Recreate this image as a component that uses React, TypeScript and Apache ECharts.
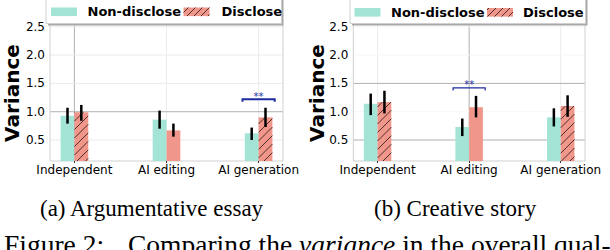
import React, { useEffect, useRef } from 'react';
import * as echarts from 'echarts';

// ---------- data ----------
const categories = ['Independent', 'AI editing', 'AI generation'];
const yTickValues = [0.5, 1.0, 1.5, 2.0, 2.5];
const seriesNames = ['Non-disclose', 'Disclose'];

// (a) Argumentative essay
const essayNonDisclose = [0.93, 0.86, 0.62];
const essayNonDiscloseLow = [0.79, 0.70, 0.50];
const essayNonDiscloseHigh = [1.07, 1.02, 0.72];
const essayDisclose = [0.99, 0.67, 0.90];
const essayDiscloseLow = [0.84, 0.56, 0.73];
const essayDiscloseHigh = [1.12, 0.79, 1.07];
const essaySigCategory = [2];
const essaySigLevel = [1.22];
const essaySigLabel = ['**'];

// (b) Creative story
const storyNonDisclose = [1.14, 0.73, 0.90];
const storyNonDiscloseLow = [0.94, 0.57, 0.74];
const storyNonDiscloseHigh = [1.32, 0.88, 1.06];
const storyDisclose = [1.17, 1.08, 1.10];
const storyDiscloseLow = [0.97, 0.90, 0.91];
const storyDiscloseHigh = [1.37, 1.28, 1.29];
const storySigCategory = [1];
const storySigLevel = [1.42];
const storySigLabel = ['**'];

const captionA = '(a) Argumentative essay';
const captionB = '(b) Creative story';
const yAxisTitle = 'Variance';
const figureLabel = 'Figure 2:';
const figureText = '{n|Comparing the }{i|variance }{n|in the overall qual-}';

// ---------- styles ----------
const TEAL = '#a3e4d7';
const SALMON = '#f1968b';
const SIG = '#1c2c9e';
const DARK = '#b0b0b0';
const LIGHT = '#ebebeb';
const FAINT = '#f6f6f6';
const FRAME = '#d0d0d0';
const BAR_W = 0.15;
const X_MIN = -0.265;
const X_MAX = 2.265;
const Y_MIN = 0.13;
const Y_MAX = 2.54;
const HATCH = 8.5;
const SANS = 'DejaVu Sans';
const SERIF = 'Liberation Serif';

const essayHatch = [true, false, true];
const storyHatch = [true, false, true];
const essayVGrid = [DARK, LIGHT, LIGHT];
const essayHGrid = [LIGHT, DARK, LIGHT, LIGHT, LIGHT];
const storyVGrid = [LIGHT, DARK, LIGHT];
const storyHGrid = [DARK, FAINT, DARK, FAINT, FAINT];

function hatchLines(x0: number, y0: number, x1: number, y1: number, period: number) {
  const out: any[] = [];
  const cStart = Math.ceil((x0 + y0) / period) * period;
  for (let c = cStart; c <= x1 + y1; c += period) {
    const xa = Math.max(x0, c - y1);
    const xb = Math.min(x1, c - y0);
    if (xb - xa > 0.3) {
      out.push({
        type: 'line',
        shape: { x1: xa, y1: c - xa, x2: xb, y2: c - xb },
        style: { stroke: 'rgba(0,0,0,0.85)', lineWidth: 0.8 },
      });
    }
  }
  return out;
}

function gridSeries(idx: number, vColors: string[], hColors: string[]) {
  const data: number[][] = [];
  categories.forEach((_, i) => data.push([0, i]));
  yTickValues.forEach((v) => data.push([1, v]));
  data.push([2, 0]);
  return {
    type: 'custom',
    xAxisIndex: idx,
    yAxisIndex: idx,
    z: 0,
    silent: true,
    data,
    renderItem: (params: any, api: any) => {
      const kind = api.value(0);
      const v = api.value(1);
      const cs = params.coordSys;
      if (kind === 0) {
        const p = api.coord([v, Y_MIN]);
        return {
          type: 'line',
          shape: { x1: p[0], y1: cs.y, x2: p[0], y2: cs.y + cs.height },
          style: { stroke: vColors[params.dataIndex], lineWidth: 1 },
        };
      }
      if (kind === 1) {
        const p = api.coord([X_MIN, v]);
        const hi = params.dataIndex - categories.length;
        return {
          type: 'line',
          shape: { x1: cs.x, y1: p[1], x2: cs.x + cs.width, y2: p[1] },
          style: { stroke: hColors[hi], lineWidth: 1 },
        };
      }
      return {
        type: 'polyline',
        shape: {
          points: [
            [cs.x, cs.y],
            [cs.x, cs.y + cs.height],
            [cs.x + cs.width, cs.y + cs.height],
            [cs.x + cs.width, cs.y],
          ],
        },
        style: { stroke: FRAME, fill: 'none', lineWidth: 1 },
      };
    },
  };
}

function barSeries(
  idx: number,
  name: string,
  offset: number,
  color: string,
  hatch: boolean[] | null,
  values: number[],
  low: number[],
  high: number[]
) {
  return {
    type: 'custom',
    name,
    xAxisIndex: idx,
    yAxisIndex: idx,
    z: 2,
    data: values.map((v, i) => [i, v, low[i], high[i]]),
    renderItem: (params: any, api: any) => {
      const cat = api.value(0);
      const v = api.value(1);
      const lo = api.value(2);
      const hi = api.value(3);
      const cs = params.coordSys;
      const xc = cat + offset;
      const tl = api.coord([xc - BAR_W / 2, v]);
      const br = api.coord([xc + BAR_W / 2, Y_MIN]);
      const bottom = Math.min(br[1], cs.y + cs.height);
      const children: any[] = [
        {
          type: 'rect',
          shape: { x: tl[0], y: tl[1], width: br[0] - tl[0], height: bottom - tl[1] },
          style: { fill: color },
        },
      ];
      if (hatch && hatch[params.dataIndex]) {
        children.push(...hatchLines(tl[0], tl[1], br[0], bottom, HATCH));
      }
      const eLo = api.coord([xc, lo]);
      const eHi = api.coord([xc, hi]);
      children.push({
        type: 'line',
        shape: { x1: eLo[0], y1: eLo[1], x2: eHi[0], y2: eHi[1] },
        style: { stroke: '#000', lineWidth: 2.5 },
      });
      return { type: 'group', children };
    },
  };
}

function sigSeries(idx: number, cats: number[], levels: number[], labels: string[], lw: number) {
  return {
    type: 'custom',
    xAxisIndex: idx,
    yAxisIndex: idx,
    z: 3,
    silent: true,
    data: cats.map((c, i) => [c, levels[i]]),
    renderItem: (params: any, api: any) => {
      const c = api.value(0);
      const y = api.value(1);
      const pL = api.coord([c - 0.175, y]);
      const pR = api.coord([c + 0.175, y]);
      return {
        type: 'group',
        children: [
          {
            type: 'polyline',
            shape: {
              points: [
                [pL[0], pL[1] + 2.5],
                [pL[0], pL[1]],
                [pR[0], pR[1]],
                [pR[0], pR[1] + 2.5],
              ],
            },
            style: { stroke: SIG, fill: 'none', lineWidth: lw },
          },
          {
            type: 'text',
            x: (pL[0] + pR[0]) / 2,
            y: pL[1] + 2,
            style: {
              text: labels[params.dataIndex],
              fill: SIG,
              fontSize: 10,
              fontFamily: SANS,
              align: 'center',
              verticalAlign: 'bottom',
            },
          },
        ],
      };
    },
  };
}

function legendGraphic(boxX: number, boxW: number, tealX: number, hatchX: number, t1X: number, t2X: number, ty: number) {
  const patchY = ty - 4.3;
  const patchH = 8.6;
  const patchW = 26;
  return [
    { type: 'rect', shape: { x: boxX + 2, y: -2, width: boxW, height: 27.5 }, style: { fill: '#a8a8a8' }, z: 100 },
    { type: 'rect', shape: { x: boxX, y: -4, width: boxW, height: 27.5 }, style: { fill: '#ffffff', stroke: '#cfcfcf', lineWidth: 1 }, z: 101 },
    { type: 'rect', shape: { x: tealX, y: patchY, width: patchW, height: patchH }, style: { fill: TEAL }, z: 102 },
    { type: 'rect', shape: { x: hatchX, y: patchY, width: patchW, height: patchH }, style: { fill: SALMON }, z: 102 },
    ...hatchLines(hatchX, patchY, hatchX + patchW, patchY + patchH, 7).map((l) => ({ ...l, z: 103 })),
    {
      type: 'text', x: t1X, y: ty, z: 103,
      style: { text: seriesNames[0], fontSize: 13, fontWeight: 'bold', fontFamily: SANS, fill: '#000', align: 'left', verticalAlign: 'middle' },
    },
    {
      type: 'text', x: t2X, y: ty, z: 103,
      style: { text: seriesNames[1], fontSize: 13, fontWeight: 'bold', fontFamily: SANS, fill: '#000', align: 'left', verticalAlign: 'middle' },
    },
  ];
}

export default function App() {
  const ref = useRef<HTMLDivElement>(null);
  useEffect(() => {
    if (!ref.current) return;
    const chart = echarts.init(ref.current, undefined, { renderer: 'svg' });
    const xAxisBase = (idx: number) => ({
      type: 'value',
      gridIndex: idx,
      min: X_MIN,
      max: X_MAX,
      axisLine: { show: false },
      splitLine: { show: false },
      axisTick: { show: true, customValues: [0, 1, 2], length: 2, lineStyle: { color: '#333', width: 1 } },
      axisLabel: {
        customValues: [0, 1, 2],
        formatter: (v: number) => categories[Math.round(v)],
        fontSize: 12,
        fontFamily: SANS,
        color: '#000',
        margin: 3,
        hideOverlap: false,
      },
    });
    const yAxisBase = (idx: number) => ({
      type: 'value',
      gridIndex: idx,
      min: Y_MIN,
      max: Y_MAX,
      axisLine: { show: false },
      splitLine: { show: false },
      axisTick: { show: false },
      axisLabel: {
        customValues: yTickValues,
        formatter: (v: number) => v.toFixed(1),
        fontSize: 12,
        fontFamily: SANS,
        color: '#000',
        margin: 5,
      },
    });
    const serifStyle = { fontSize: 27.5, fontFamily: SERIF, fill: '#000' };
    chart.setOption({
      animation: false,
      backgroundColor: '#ffffff',
      grid: [
        { left: 50, top: 24.5, width: 233, height: 136.5 },
        { left: 353.3, top: 24.5, width: 231.7, height: 136.5 },
      ],
      xAxis: [xAxisBase(0), xAxisBase(1)],
      yAxis: [yAxisBase(0), yAxisBase(1)],
      series: [
        gridSeries(0, essayVGrid, essayHGrid),
        barSeries(0, seriesNames[0], -BAR_W / 2, TEAL, null, essayNonDisclose, essayNonDiscloseLow, essayNonDiscloseHigh),
        barSeries(0, seriesNames[1], BAR_W / 2, SALMON, essayHatch, essayDisclose, essayDiscloseLow, essayDiscloseHigh),
        sigSeries(0, essaySigCategory, essaySigLevel, essaySigLabel, 2),
        gridSeries(1, storyVGrid, storyHGrid),
        barSeries(1, seriesNames[0], -BAR_W / 2, TEAL, null, storyNonDisclose, storyNonDiscloseLow, storyNonDiscloseHigh),
        barSeries(1, seriesNames[1], BAR_W / 2, SALMON, storyHatch, storyDisclose, storyDiscloseLow, storyDiscloseHigh),
        sigSeries(1, storySigCategory, storySigLevel, storySigLabel, 1.2),
      ],
      graphic: [
        ...legendGraphic(46, 235.5, 51, 183.5, 87.5, 221.5, 11.8),
        ...legendGraphic(350, 235.5, 354.5, 487, 391, 523, 12.3),
        {
          type: 'text', x: 11.5, y: 93, rotation: Math.PI / 2, z: 50,
          style: { text: yAxisTitle, fontSize: 20, fontWeight: 'bold', fontFamily: SANS, fill: '#000', align: 'center', verticalAlign: 'middle' },
        },
        {
          type: 'text', x: 316.5, y: 93, rotation: Math.PI / 2, z: 50,
          style: { text: yAxisTitle, fontSize: 20, fontWeight: 'bold', fontFamily: SANS, fill: '#000', align: 'center', verticalAlign: 'middle' },
        },
        {
          type: 'text', x: 40, y: 208.2, z: 50,
          style: { text: captionA, fontSize: 23, fontFamily: SERIF, fill: '#000', align: 'left', verticalAlign: 'middle' },
        },
        {
          type: 'text', x: 374, y: 208.2, z: 50,
          style: { text: captionB, fontSize: 23, fontFamily: SERIF, fill: '#000', align: 'left', verticalAlign: 'middle' },
        },
        {
          type: 'text', x: 4, y: 244.3, z: 50,
          style: { ...serifStyle, text: figureLabel, align: 'left', verticalAlign: 'middle' },
        },
        {
          type: 'text', x: 128, y: 244.3, z: 50,
          style: {
            ...serifStyle,
            text: figureText,
            align: 'left',
            verticalAlign: 'middle',
            rich: {
              n: { fontSize: 27.5, fontFamily: SERIF, fill: '#000' },
              i: { fontSize: 27.5, fontFamily: SERIF, fontStyle: 'italic', fill: '#000' },
            },
          },
        },
      ],
    });
    return () => chart.dispose();
  }, []);
  return (
    <div
      ref={ref}
      style={{ position: 'absolute', left: 0, top: 0, width: 610, height: 250, background: '#fff' }}
    />
  );
}
